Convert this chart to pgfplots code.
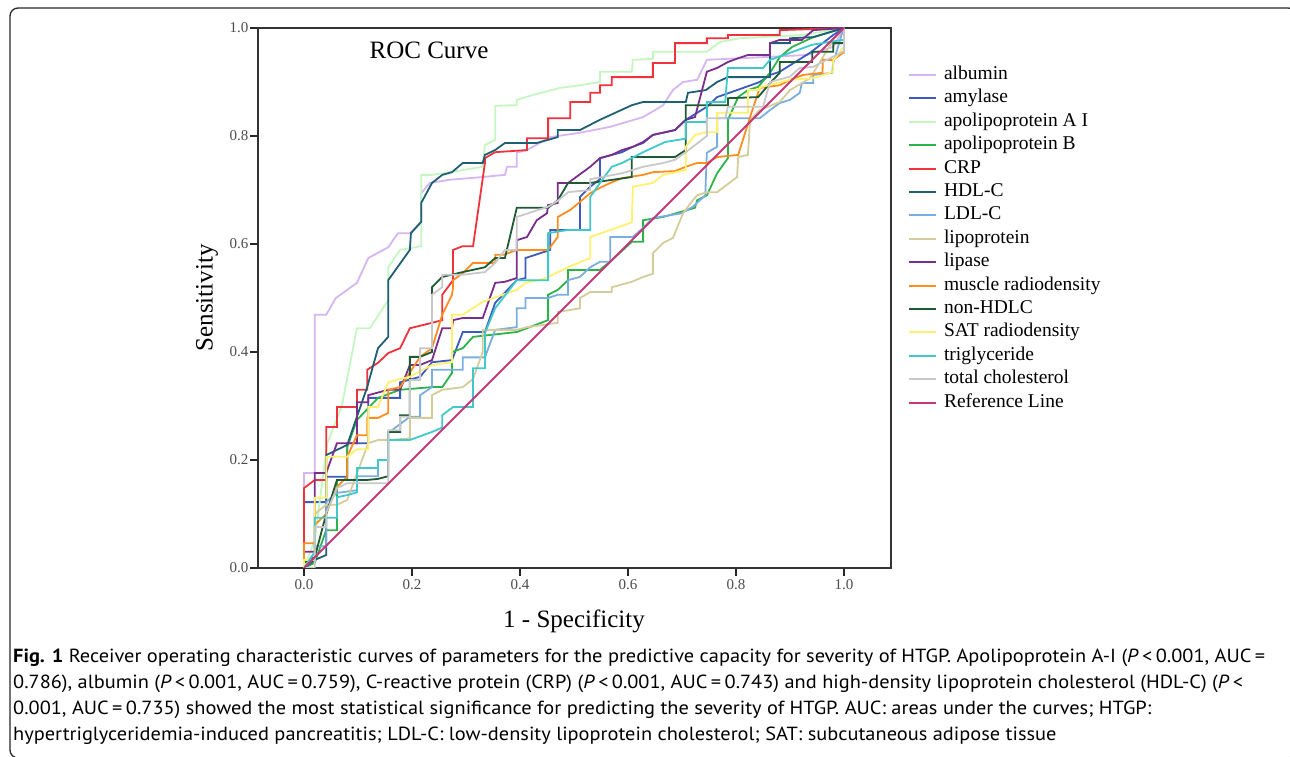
\documentclass[border=0pt]{standalone}
\usepackage{fontspec}
\usepackage{graphicx}
\usepackage{pgfplots}
\pgfplotsset{compat=1.18}
\setmainfont{Liberation Serif}
\newfontfamily\capfont{PT Sans}
\definecolor{calb}{HTML}{D6B6F2}
\definecolor{camy}{HTML}{3B5BBF}
\definecolor{capoa}{HTML}{C4F7C0}
\definecolor{capob}{HTML}{2DB34A}
\definecolor{ccrp}{HTML}{F0323C}
\definecolor{chdl}{HTML}{1F5F73}
\definecolor{cldl}{HTML}{7BAEE0}
\definecolor{clipo}{HTML}{D4CC9A}
\definecolor{clipa}{HTML}{7A2E8C}
\definecolor{cmus}{HTML}{FF8C1E}
\definecolor{cnon}{HTML}{1E5A32}
\definecolor{csat}{HTML}{FFF06E}
\definecolor{ctri}{HTML}{40C8CC}
\definecolor{ctot}{HTML}{C8C8C8}
\definecolor{cref}{HTML}{C4387A}
% caption lines
\newcommand\capA{\textbf{Fig. 1} Receiver operating characteristic curves of parameters for the predictive capacity for severity of HTGP. Apolipoprotein A-I (\textit{P}\,<\,0.001, AUC\,=}
\newcommand\capB{0.786), albumin (\textit{P}\,<\,0.001, AUC\,=\,0.759), C-reactive protein (CRP) (\textit{P}\,<\,0.001, AUC\,=\,0.743) and high-density lipoprotein cholesterol (HDL-C) (\textit{P}\,<}
\newcommand\capC{0.001, AUC\,=\,0.735) showed the most statistical significance for predicting the severity of HTGP. AUC: areas under the curves; HTGP:}
\newcommand\capD{hypertriglyceridemia-induced pancreatitis; LDL-C: low-density lipoprotein cholesterol; SAT: subcutaneous adipose tissue}
\newcommand\capsize{\capfont\fontsize{19}{23}\selectfont}
\newlength\capw
\begin{document}%
\settowidth\capw{\capsize\capA}%
\pgfmathsetmacro\capsc{1252/\capw}%
\begin{tikzpicture}[x=1pt,y=1pt]
\useasboundingbox (0,0) rectangle (1290,757);
\draw[black!85, line width=1.3pt, rounded corners=8pt] (10,-1) rectangle (1296,749);

\begin{axis}[
  at={(258pt,189pt)}, anchor=south west,
  scale only axis, width=633pt, height=540pt,
  xmin=-0.0852, xmax=1.0870, ymin=0, ymax=1,
  xtick={0,0.2,0.4,0.6,0.8,1}, ytick={0,0.2,0.4,0.6,0.8,1},
  xticklabels={0.0,0.2,0.4,0.6,0.8,1.0},
  yticklabels={0.0,0.2,0.4,0.6,0.8,1.0},
  tick pos=left, tick align=outside, major tick length=8pt,
  tick style={black!85, line width=1.3pt},
  axis line style={black!80, line width=1.3pt},
  ticklabel style={font=\fontsize{15}{18}\selectfont, text=black!70},
  yticklabel style={inner sep=1.5pt},
  no marks,
  every axis plot/.append style={line width=1.8pt},
  legend cell align=left,
  legend image code/.code={\draw[#1, line width=2pt] (0pt,0pt) -- (27pt,0pt);},
  legend style={at={(1.0269,0.9306)}, anchor=north west, draw=none, fill=none,
    inner sep=0pt, outer sep=0pt, font=\fontsize{19.5}{23}\selectfont,
    nodes={inner sep=0pt, text height=14pt, text depth=5pt},
    row sep=4.4pt, column sep=7pt},
]
\addplot[calb] coordinates {(0,0)(0,0.176)(0.020,0.176)(0.020,0.469)(0.041,0.469)(0.059,0.500)(0.098,0.528)(0.119,0.574)(0.156,0.594)(0.174,0.620)(0.196,0.620)(0.217,0.641)(0.217,0.694)(0.233,0.713)(0.270,0.719)(0.331,0.724)(0.372,0.728)(0.376,0.743)(0.394,0.743)(0.394,0.769)(0.413,0.774)(0.456,0.798)(0.511,0.806)(0.567,0.817)(0.628,0.835)(0.665,0.857)(0.683,0.885)(0.702,0.900)(0.728,0.904)(0.746,0.941)(0.931,0.950)(0.980,0.965)(0.998,0.996)(1,1)};
\addlegendentry{albumin}
\addplot[camy] coordinates {(0,0)(0,0.122)(0.041,0.122)(0.041,0.169)(0.080,0.169)(0.080,0.231)(0.119,0.231)(0.119,0.315)(0.178,0.315)(0.178,0.344)(0.215,0.354)(0.237,0.381)(0.274,0.385)(0.294,0.437)(0.335,0.437)(0.354,0.491)(0.394,0.533)(0.410,0.537)(0.410,0.574)(0.456,0.589)(0.456,0.626)(0.511,0.626)(0.511,0.687)(0.530,0.706)(0.548,0.720)(0.548,0.759)(0.570,0.765)(0.589,0.770)(0.609,0.780)(0.628,0.787)(0.646,0.802)(0.687,0.811)(0.707,0.830)(0.728,0.843)(0.746,0.854)(0.765,0.872)(0.802,0.885)(0.844,0.900)(0.863,0.913)(0.881,0.919)(0.937,0.954)(0.980,0.987)(1,1)};
\addlegendentry{amylase}
\addplot[capoa] coordinates {(0,0)(0.020,0.052)(0.043,0.231)(0.070,0.300)(0.098,0.444)(0.122,0.444)(0.156,0.496)(0.156,0.557)(0.178,0.589)(0.217,0.596)(0.217,0.728)(0.237,0.728)(0.270,0.733)(0.331,0.743)(0.335,0.783)(0.354,0.793)(0.354,0.856)(0.394,0.857)(0.394,0.867)(0.424,0.876)(0.474,0.889)(0.511,0.894)(0.548,0.900)(0.548,0.919)(0.607,0.919)(0.609,0.941)(0.646,0.943)(0.646,0.956)(0.746,0.956)(0.770,0.974)(0.807,0.981)(0.924,0.987)(1,1)};
\addlegendentry{apolipoprotein A I}
\addplot[capob] coordinates {(0,0)(0.020,0.010)(0.041,0.070)(0.061,0.070)(0.061,0.163)(0.080,0.163)(0.080,0.224)(0.098,0.274)(0.137,0.315)(0.178,0.330)(0.237,0.335)(0.256,0.335)(0.274,0.361)(0.274,0.400)(0.294,0.407)(0.313,0.428)(0.394,0.437)(0.452,0.459)(0.452,0.506)(0.470,0.515)(0.489,0.533)(0.489,0.552)(0.548,0.552)(0.570,0.570)(0.607,0.604)(0.628,0.604)(0.628,0.644)(0.665,0.650)(0.724,0.667)(0.728,0.681)(0.746,0.690)(0.765,0.731)(0.785,0.759)(0.785,0.830)(0.804,0.872)(0.822,0.885)(0.841,0.891)(0.863,0.917)(0.881,0.946)(0.904,0.965)(0.943,0.983)(1,1)};
\addlegendentry{apolipoprotein B}
\addplot[ccrp] coordinates {(0,0)(0,0.148)(0.020,0.163)(0.041,0.163)(0.041,0.261)(0.061,0.261)(0.061,0.298)(0.098,0.298)(0.098,0.330)(0.117,0.330)(0.117,0.367)(0.137,0.380)(0.156,0.398)(0.178,0.407)(0.196,0.444)(0.237,0.454)(0.256,0.459)(0.256,0.506)(0.276,0.533)(0.276,0.589)(0.294,0.596)(0.313,0.596)(0.335,0.750)(0.335,0.759)(0.354,0.770)(0.413,0.774)(0.413,0.796)(0.452,0.796)(0.452,0.833)(0.493,0.833)(0.493,0.863)(0.530,0.863)(0.530,0.880)(0.548,0.880)(0.548,0.894)(0.570,0.894)(0.570,0.909)(0.646,0.909)(0.646,0.935)(0.687,0.935)(0.687,0.972)(0.746,0.972)(0.746,0.981)(0.785,0.981)(0.785,0.987)(0.881,0.987)(0.881,0.996)(1,1)};
\addlegendentry{CRP}
\addplot[chdl] coordinates {(0,0)(0.020,0.015)(0.041,0.024)(0.041,0.209)(0.080,0.228)(0.117,0.335)(0.137,0.407)(0.156,0.428)(0.156,0.533)(0.196,0.589)(0.198,0.620)(0.217,0.641)(0.217,0.676)(0.237,0.713)(0.256,0.728)(0.274,0.733)(0.294,0.750)(0.331,0.750)(0.335,0.765)(0.354,0.774)(0.372,0.787)(0.431,0.787)(0.470,0.798)(0.470,0.811)(0.511,0.811)(0.548,0.830)(0.607,0.857)(0.628,0.863)(0.707,0.863)(0.711,0.880)(0.744,0.885)(0.765,0.900)(0.785,0.909)(0.863,0.909)(0.863,0.972)(0.900,0.972)(0.900,0.981)(0.943,0.983)(1,1)};
\addlegendentry{HDL-C}
\addplot[cldl] coordinates {(0,0)(0.020,0.020)(0.020,0.040)(0.041,0.040)(0.041,0.122)(0.061,0.139)(0.098,0.144)(0.098,0.170)(0.137,0.170)(0.137,0.200)(0.156,0.200)(0.156,0.250)(0.196,0.280)(0.215,0.280)(0.215,0.320)(0.237,0.335)(0.237,0.367)(0.294,0.367)(0.294,0.390)(0.335,0.390)(0.354,0.441)(0.394,0.446)(0.394,0.481)(0.410,0.481)(0.410,0.500)(0.452,0.500)(0.470,0.506)(0.489,0.506)(0.489,0.533)(0.511,0.539)(0.530,0.557)(0.548,0.567)(0.567,0.567)(0.567,0.613)(0.609,0.613)(0.628,0.630)(0.646,0.648)(0.700,0.657)(0.720,0.669)(0.743,0.690)(0.746,0.769)(0.765,0.780)(0.765,0.833)(0.844,0.833)(0.863,0.848)(0.881,0.861)(0.900,0.867)(0.918,0.880)(0.922,0.898)(0.943,0.898)(0.943,0.913)(0.978,0.917)(0.980,0.935)(0.998,0.996)(1,1)};
\addlegendentry{LDL-C}
\addplot[clipo] coordinates {(0,0)(0.020,0.030)(0.020,0.100)(0.041,0.117)(0.061,0.117)(0.080,0.126)(0.098,0.175)(0.119,0.231)(0.137,0.237)(0.156,0.237)(0.196,0.240)(0.196,0.278)(0.237,0.278)(0.237,0.320)(0.256,0.330)(0.294,0.335)(0.313,0.350)(0.331,0.400)(0.331,0.441)(0.394,0.441)(0.413,0.446)(0.470,0.454)(0.470,0.474)(0.511,0.481)(0.511,0.500)(0.530,0.511)(0.570,0.511)(0.570,0.520)(0.607,0.530)(0.628,0.539)(0.646,0.545)(0.646,0.583)(0.665,0.602)(0.683,0.611)(0.702,0.657)(0.720,0.681)(0.728,0.690)(0.746,0.696)(0.765,0.696)(0.802,0.724)(0.804,0.761)(0.822,0.765)(0.826,0.830)(0.844,0.848)(0.881,0.863)(0.900,0.885)(0.937,0.907)(0.961,0.946)(0.980,0.978)(1,1)};
\addlegendentry{lipoprotein}
\addplot[clipa] coordinates {(0,0)(0,0.030)(0.020,0.030)(0.020,0.176)(0.041,0.176)(0.061,0.231)(0.098,0.231)(0.098,0.307)(0.119,0.307)(0.119,0.320)(0.156,0.330)(0.178,0.330)(0.196,0.376)(0.215,0.376)(0.237,0.385)(0.256,0.444)(0.274,0.444)(0.276,0.459)(0.294,0.463)(0.331,0.463)(0.354,0.528)(0.372,0.530)(0.394,0.537)(0.394,0.607)(0.413,0.613)(0.431,0.644)(0.450,0.657)(0.452,0.672)(0.470,0.676)(0.470,0.713)(0.489,0.713)(0.530,0.743)(0.548,0.759)(0.570,0.765)(0.589,0.774)(0.609,0.780)(0.628,0.789)(0.646,0.802)(0.687,0.811)(0.707,0.830)(0.724,0.835)(0.746,0.919)(0.765,0.926)(0.785,0.937)(0.804,0.944)(0.822,0.950)(0.863,0.950)(0.863,0.972)(0.881,0.978)(0.922,0.978)(0.943,0.996)(1,1)};
\addlegendentry{lipase}
\addplot[cmus] coordinates {(0,0)(0,0.046)(0.020,0.046)(0.020,0.080)(0.041,0.100)(0.061,0.150)(0.080,0.169)(0.080,0.206)(0.098,0.246)(0.117,0.246)(0.117,0.278)(0.137,0.278)(0.156,0.287)(0.156,0.330)(0.178,0.335)(0.215,0.391)(0.237,0.407)(0.256,0.469)(0.274,0.506)(0.276,0.520)(0.276,0.533)(0.294,0.546)(0.313,0.565)(0.354,0.565)(0.354,0.580)(0.370,0.580)(0.394,0.589)(0.452,0.589)(0.470,0.613)(0.470,0.650)(0.493,0.663)(0.511,0.678)(0.530,0.694)(0.548,0.704)(0.567,0.713)(0.589,0.722)(0.628,0.728)(0.646,0.733)(0.687,0.735)(0.707,0.743)(0.728,0.750)(0.746,0.750)(0.765,0.761)(0.804,0.765)(0.826,0.835)(0.844,0.889)(0.881,0.894)(0.900,0.904)(0.924,0.913)(0.960,0.917)(0.961,0.941)(0.980,0.941)(0.998,0.954)(1,0.954)(1,1)};
\addlegendentry{muscle radiodensity}
\addplot[cnon] coordinates {(0,0)(0,0.010)(0.020,0.020)(0.041,0.100)(0.061,0.163)(0.098,0.163)(0.117,0.163)(0.137,0.165)(0.156,0.170)(0.156,0.252)(0.178,0.252)(0.178,0.283)(0.196,0.283)(0.196,0.391)(0.215,0.391)(0.237,0.400)(0.237,0.520)(0.256,0.539)(0.294,0.548)(0.335,0.557)(0.354,0.574)(0.372,0.574)(0.394,0.667)(0.452,0.667)(0.470,0.681)(0.489,0.713)(0.530,0.713)(0.607,0.724)(0.607,0.761)(0.687,0.761)(0.707,0.774)(0.707,0.857)(0.785,0.857)(0.785,0.870)(0.841,0.872)(0.863,0.898)(0.881,0.917)(0.881,0.937)(0.941,0.937)(0.941,0.956)(0.980,0.956)(0.980,0.972)(1,0.972)(1,1)};
\addlegendentry{non-HDLC}
\addplot[csat] coordinates {(0,0)(0,0.015)(0.020,0.015)(0.020,0.130)(0.041,0.130)(0.041,0.206)(0.080,0.206)(0.098,0.220)(0.119,0.220)(0.119,0.298)(0.137,0.298)(0.156,0.344)(0.178,0.350)(0.196,0.354)(0.237,0.376)(0.274,0.381)(0.274,0.469)(0.294,0.469)(0.331,0.493)(0.394,0.515)(0.410,0.528)(0.435,0.533)(0.452,0.539)(0.489,0.557)(0.530,0.574)(0.530,0.613)(0.567,0.626)(0.607,0.640)(0.609,0.706)(0.646,0.713)(0.665,0.728)(0.707,0.737)(0.707,0.780)(0.724,0.802)(0.746,0.807)(0.765,0.807)(0.765,0.843)(0.822,0.843)(0.822,0.885)(0.844,0.885)(0.844,0.890)(0.900,0.904)(0.943,0.907)(0.980,0.919)(0.980,0.940)(0.998,0.963)(1,0.963)(1,1)};
\addlegendentry{SAT radiodensity}
\addplot[ctri] coordinates {(0,0)(0.020,0.030)(0.020,0.093)(0.061,0.093)(0.061,0.131)(0.080,0.135)(0.098,0.140)(0.098,0.185)(0.137,0.185)(0.137,0.200)(0.156,0.200)(0.156,0.237)(0.196,0.237)(0.237,0.252)(0.256,0.260)(0.256,0.283)(0.276,0.298)(0.313,0.298)(0.313,0.370)(0.335,0.370)(0.335,0.435)(0.354,0.481)(0.394,0.533)(0.452,0.533)(0.452,0.620)(0.489,0.626)(0.530,0.626)(0.530,0.687)(0.548,0.713)(0.570,0.743)(0.589,0.750)(0.628,0.770)(0.669,0.789)(0.707,0.795)(0.707,0.826)(0.746,0.826)(0.746,0.863)(0.780,0.863)(0.785,0.926)(0.850,0.926)(0.863,0.941)(0.900,0.954)(0.941,0.969)(0.998,0.978)(1,0.978)(1,1)};
\addlegendentry{triglyceride}
\addplot[ctot] coordinates {(0,0)(0.020,0)(0.020,0.076)(0.041,0.076)(0.041,0.102)(0.061,0.148)(0.080,0.157)(0.117,0.157)(0.156,0.157)(0.156,0.255)(0.178,0.255)(0.178,0.280)(0.196,0.280)(0.196,0.348)(0.215,0.348)(0.215,0.407)(0.237,0.407)(0.237,0.506)(0.256,0.520)(0.256,0.543)(0.294,0.543)(0.335,0.548)(0.354,0.565)(0.372,0.589)(0.394,0.589)(0.394,0.650)(0.452,0.669)(0.470,0.680)(0.489,0.696)(0.530,0.700)(0.530,0.720)(0.589,0.731)(0.628,0.743)(0.665,0.750)(0.687,0.756)(0.707,0.770)(0.746,0.800)(0.746,0.833)(0.780,0.833)(0.785,0.854)(0.850,0.854)(0.863,0.900)(0.900,0.910)(0.918,0.926)(0.943,0.928)(0.978,0.946)(0.998,0.956)(1,0.956)(1,1)};
\addlegendentry{total cholesterol}
\addplot[cref] coordinates {(0,0)(1,1)};
\addlegendentry{Reference Line}
\end{axis}

\node[font=\fontsize{25}{30}\selectfont] at (429,707) {ROC Curve};
\node[font=\fontsize{25}{30}\selectfont, rotate=90] at (207,459) {Sensitivity};
\node[font=\fontsize{25}{30}\selectfont] at (574,136) {1 - Specificity};

\node[anchor=base west, inner sep=0pt] at (13,94) {\scalebox{\capsc}[1]{\capsize\capA}};
\node[anchor=base west, inner sep=0pt] at (13,68) {\scalebox{\capsc}[1]{\capsize\capB}};
\node[anchor=base west, inner sep=0pt] at (13,42) {\scalebox{\capsc}[1]{\capsize\capC}};
\node[anchor=base west, inner sep=0pt] at (13,16) {\scalebox{\capsc}[1]{\capsize\capD}};
\end{tikzpicture}%
\end{document}
